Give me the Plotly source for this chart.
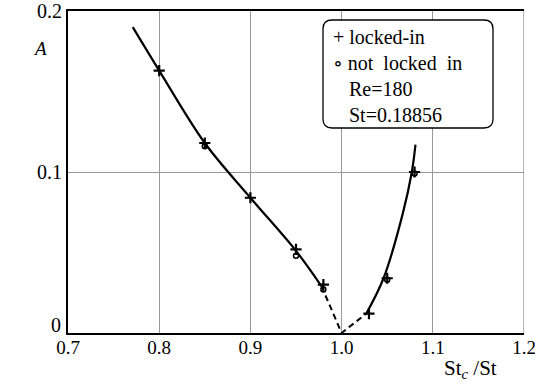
import plotly.graph_objects as go

# ---- data ----
locked_x = [0.80, 0.85, 0.90, 0.95, 0.98, 1.03, 1.05, 1.08]
locked_A = [0.163, 0.118, 0.084, 0.052, 0.030, 0.012, 0.034, 0.100]

notlocked_x = [0.85, 0.95, 0.98, 1.05, 1.08]
notlocked_A = [0.116, 0.048, 0.027, 0.033, 0.099]

left_curve_x = [0.771, 0.80, 0.85, 0.90, 0.95, 0.978]
left_curve_A = [0.190, 0.163, 0.118, 0.084, 0.051, 0.029]

dash_x = [0.978, 1.000, 1.027]
dash_A = [0.029, 0.000, 0.012]

right_curve_x = [1.027, 1.046, 1.067, 1.077, 1.081]
right_curve_A = [0.012, 0.034, 0.074, 0.100, 0.117]

x_ticks = [0.7, 0.8, 0.9, 1.0, 1.1, 1.2]
x_tick_labels = ["0.7", "0.8", "0.9", "1.0", "1.1", "1.2"]
y_ticks = [0, 0.1, 0.2]
y_tick_labels = ["0", "0.1", "0.2"]

legend_lines = ["+ locked-in", "\u2218 not&nbsp; locked&nbsp; in", "Re=180", "St=0.18856"]

FONT = "Times New Roman, Liberation Serif, DejaVu Serif, serif"

fig = go.Figure()
fig.add_trace(go.Scatter(x=left_curve_x, y=left_curve_A, mode="lines",
                         line=dict(color="black", width=2.2, shape="spline"),
                         showlegend=False, hoverinfo="skip"))
fig.add_trace(go.Scatter(x=dash_x, y=dash_A, mode="lines",
                         line=dict(color="black", width=2, dash="6px,4px"),
                         showlegend=False, hoverinfo="skip"))
fig.add_trace(go.Scatter(x=right_curve_x, y=right_curve_A, mode="lines",
                         line=dict(color="black", width=2.2, shape="spline"),
                         showlegend=False, hoverinfo="skip"))
fig.add_trace(go.Scatter(x=locked_x, y=locked_A, mode="markers",
                         marker=dict(symbol="cross-thin", size=8, color="black",
                                     line=dict(color="black", width=2.2)),
                         showlegend=False))
fig.add_trace(go.Scatter(x=notlocked_x, y=notlocked_A, mode="markers",
                         marker=dict(symbol="circle-open", size=5, color="black",
                                     line=dict(color="black", width=1.5)),
                         showlegend=False))

# plot area in pixels: x 68..524, y 11..333
L, R, T, B = 68, 524, 11, 333
W, H = 535, 384
def px(xp):
    return (xp - L) / (R - L)
def py(yp):
    return (B - yp) / (B - T)

# rounded legend box
x0, x1, y0, y1, r = 323, 493, 20, 128, 9
path = (f"M {px(x0+r)},{py(y0)} L {px(x1-r)},{py(y0)} "
        f"Q {px(x1)},{py(y0)} {px(x1)},{py(y0+r)} "
        f"L {px(x1)},{py(y1-r)} Q {px(x1)},{py(y1)} {px(x1-r)},{py(y1)} "
        f"L {px(x0+r)},{py(y1)} Q {px(x0)},{py(y1)} {px(x0)},{py(y1-r)} "
        f"L {px(x0)},{py(y0+r)} Q {px(x0)},{py(y0)} {px(x0+r)},{py(y0)} Z")

shapes = [
    dict(type="line", xref="x", yref="paper", x0=1.2, x1=1.2, y0=0, y1=1,
         line=dict(color="#888", width=1.2), layer="above"),
    dict(type="path", xref="paper", yref="paper", path=path,
         fillcolor="white", line=dict(color="black", width=1.3), layer="above"),
]

annotations = []
for i, txt in enumerate(legend_lines):
    yc = [37, 63, 89, 115][i]
    xs = 331 if i < 2 else 347
    annotations.append(dict(xref="paper", yref="paper", x=px(xs), y=py(yc),
                            text=txt, showarrow=False, xanchor="left",
                            yanchor="middle",
                            font=dict(family=FONT, size=20, color="black")))
annotations.append(dict(xref="paper", yref="paper", x=px(40), y=py(48),
                        text="<i>A</i>", showarrow=False, xanchor="center",
                        yanchor="middle",
                        font=dict(family=FONT, size=19, color="black")))
annotations.append(dict(xref="paper", yref="paper", x=px(470), y=py(369),
                        text="St<sub><i>c</i></sub> /St", showarrow=False,
                        xanchor="center", yanchor="middle",
                        font=dict(family=FONT, size=21, color="black")))
# the "0" label of the A axis sits a little above the axis line
annotations.append(dict(xref="paper", yref="y", x=px(63), y=y_ticks[0],
                        text=y_tick_labels[0], showarrow=False,
                        xanchor="right", yanchor="middle", yshift=8,
                        font=dict(family=FONT, size=20, color="black")))

fig.update_layout(
    width=W, height=H, autosize=False,
    margin=dict(l=L, r=W - R, t=T, b=H - B, pad=0, autoexpand=False),
    paper_bgcolor="white", plot_bgcolor="white",
    font=dict(family=FONT, size=20, color="black"),
    shapes=shapes, annotations=annotations,
    xaxis=dict(range=[0.7, 1.2], tickvals=x_ticks, ticktext=x_tick_labels,
               showgrid=True, gridcolor="#999", gridwidth=1.2,
               showline=True, linecolor="black", linewidth=2, mirror=True,
               ticks="", zeroline=False, automargin=False,
               ticklabeloverflow="allow", ticklabelstandoff=-4,
               tickfont=dict(family=FONT, size=19, color="black")),
    yaxis=dict(range=[0, 0.2], tickvals=y_ticks[1:], ticktext=y_tick_labels[1:],
               showgrid=True, gridcolor="#999", gridwidth=1.2,
               showline=True, linecolor="black", linewidth=2,
               ticks="", zeroline=False, automargin=False,
               ticklabeloverflow="allow",
               tickfont=dict(family=FONT, size=20, color="black")),
)

fig.write_html("out.html",
               config={"displayModeBar": False},
               post_script="document.body.style.margin='0';")
